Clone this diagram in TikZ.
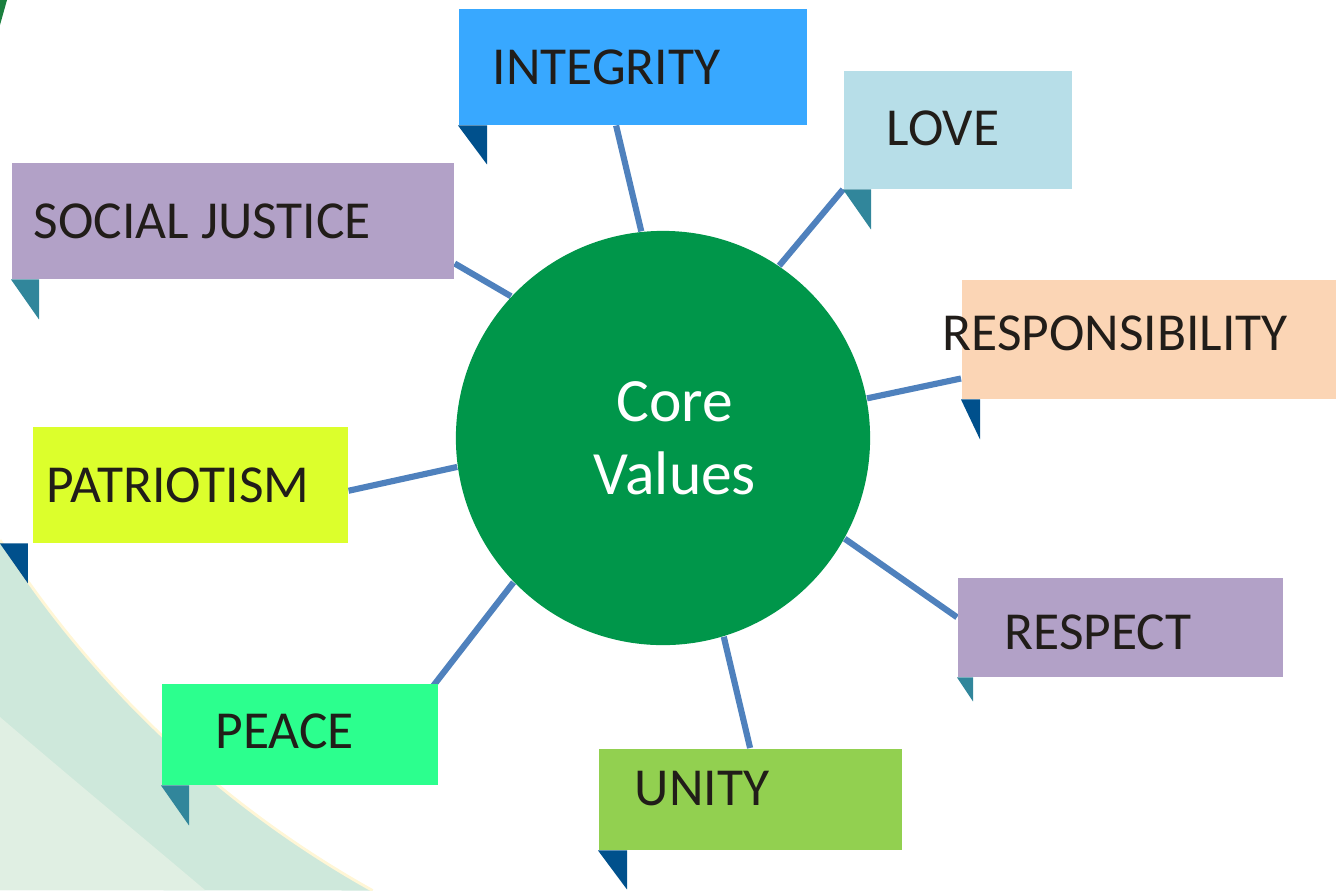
\documentclass[tikz,border=0pt]{standalone}
\usepackage{fontspec}
\setmainfont{Carlito}
\usetikzlibrary{backgrounds}

\definecolor{ink}{HTML}{211D19}
\definecolor{spoke}{HTML}{4F81BD}
\definecolor{coregreen}{HTML}{00964A}
\definecolor{tabdark}{HTML}{00508C}
\definecolor{tabteal}{HTML}{31869B}
\definecolor{band}{HTML}{CEE8DB}
\definecolor{bandlight}{HTML}{E0EFE3}
\definecolor{bandedge}{HTML}{FFF6D6}
\definecolor{leafgreen}{HTML}{1B7F3E}
\definecolor{cIntegrity}{HTML}{38A8FF}
\definecolor{cLove}{HTML}{B7DEE8}
\definecolor{cLilac}{HTML}{B2A1C7}
\definecolor{cResp}{HTML}{FBD5B5}
\definecolor{cPatriot}{HTML}{DCFF2C}
\definecolor{cPeace}{HTML}{2CFF8E}
\definecolor{cUnity}{HTML}{92D050}

\begin{document}
\begin{tikzpicture}[x=0.01cm, y=-0.01cm,
    valbox/.style={rectangle, inner sep=0pt, anchor=north west},
    lbl/.style={anchor=base west, inner sep=0pt, text=ink, font=\fontsize{15.2}{18}\selectfont},
    spokeline/.style={line width=1.75pt, draw=spoke}]
\useasboundingbox (0,0) rectangle (1336,890);

% corner decoration
\begin{scope}[on background layer]
\fill[band] (0,540) arc[start angle=212.7, end angle=240.8, radius=10.53cm] -- (0,890) -- cycle;
\fill[bandlight] (0,717) .. controls (70,777) and (140,835) .. (205,890) -- (0,890) -- cycle;
\draw[bandedge, line width=0.8pt] (0,540) arc[start angle=212.7, end angle=240.8, radius=10.53cm];
\fill[leafgreen] (0,0) -- (7,0) -- (0,25) -- cycle;
\end{scope}

% centre
\node[circle, fill=coregreen, minimum size=4.14cm, inner sep=0pt] (core) at (663,438) {};
\node[text=white, align=center, font=\fontsize{17.5}{20.7}\selectfont] (core-t) at (675,438) {Core\\Values};

% value boxes
\node[valbox, fill=cIntegrity, minimum width=3.48cm, minimum height=1.16cm] (integrity) at (458,8) {};
\node[valbox, fill=cLove, minimum width=2.28cm, minimum height=1.18cm] (love) at (843,70) {};
\node[valbox, fill=cLilac, minimum width=4.42cm, minimum height=1.16cm] (justice) at (11,162) {};
\node[valbox, fill=cResp, minimum width=3.75cm, minimum height=1.19cm] (resp) at (961,279) {};
\node[valbox, fill=cPatriot, minimum width=3.15cm, minimum height=1.16cm] (patriot) at (32,426) {};
\node[valbox, fill=cPeace, minimum width=2.76cm, minimum height=1.01cm] (peace) at (161,683) {};
\node[valbox, fill=cUnity, minimum width=3.03cm, minimum height=1.01cm] (unity) at (598,748) {};
\node[valbox, fill=cLilac, minimum width=3.25cm, minimum height=0.99cm] (respect) at (957,577) {};

% labels
\node[lbl] (integrity-t) at (492,84) {INTEGRITY};
\node[lbl] (love-t) at (886,145) {LOVE};
\node[lbl] (justice-t) at (33,238) {SOCIAL JUSTICE};
\node[lbl] (resp-t) at (942,350) {RESPONSIBILITY};
\node[lbl] (patriot-t) at (46,502) {PATRIOTISM};
\node[lbl] (peace-t) at (215,748) {PEACE};
\node[lbl] (unity-t) at (634,805) {UNITY};
\node[lbl] (respect-t) at (1004,649) {RESPECT};

% little flags under the boxes
\fill[tabdark] (integrity.south west) -- ++(29,0) -- ++(0,39) -- cycle;
\fill[tabteal] (love.south west) -- ++(28,0) -- ++(0,40) -- cycle;
\fill[tabteal] (justice.south west) -- ++(28,0) -- ++(0,40) -- cycle;
\fill[tabdark] (resp.south west) -- ++(19,0) -- ++(0,40) -- cycle;
\fill[tabdark] ([xshift=-0.32cm]patriot.south west) -- ++(28,0) -- ++(0,40) -- cycle;
\fill[tabteal] (peace.south west) -- ++(28,0) -- ++(0,40) -- cycle;
\fill[tabdark] (unity.south west) -- ++(29,0) -- ++(0,39) -- cycle;
\fill[tabteal] (respect.south west) -- ++(16,0) -- ++(0,24) -- cycle;

% spokes
\begin{scope}[on background layer]
\draw[spokeline] (core.96.4) -- ([xshift=1.58cm]integrity.south west);
\draw[spokeline] (core.56.5) -- (love.south west);
\draw[spokeline] (core.137.6) -- ([yshift=0.16cm]justice.south east);
\draw[spokeline] (core.11.7) -- ([yshift=0.21cm]resp.south west);
\draw[spokeline] (core.188.4) -- ([yshift=-0.06cm]patriot.east);
\draw[spokeline] (core.224.6) -- ([xshift=-0.07cm,yshift=-0.05cm]peace.north east);
\draw[spokeline] (core.287.4) -- ([xshift=1.52cm]unity.north west);
\draw[spokeline] (core.331.2) -- ([yshift=0.1cm]respect.west);
\end{scope}

\end{tikzpicture}
\end{document}
